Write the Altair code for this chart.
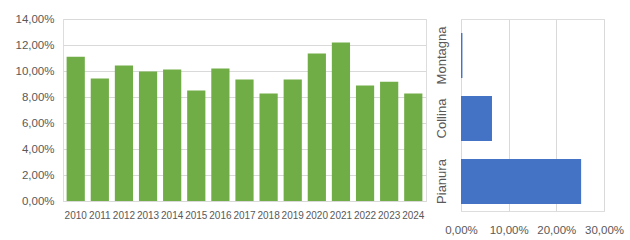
import altair as alt
import pandas as pd

years = [str(y) for y in range(2010, 2025)]
year_values = [0.1109, 0.0942, 0.1042, 0.0996, 0.1012, 0.0850, 0.1019, 0.0935,
               0.0827, 0.0935, 0.1134, 0.1219, 0.0889, 0.0918, 0.0827]

zones = ["Montagna", "Collina", "Pianura"]
zone_values = [0.003, 0.065, 0.252]

df_years = pd.DataFrame({"anno": years, "valore": year_values})
df_zones = pd.DataFrame({"zona": zones, "valore": zone_values})

FONT = "Liberation Sans"
LBL = "#595959"
GRID = "#D9D9D9"
pct_expr = "replace(format(datum.value, '.2%'), '.', ',')"

left = alt.Chart(df_years).mark_bar(color="#70AD47").encode(
    x=alt.X("anno:N", sort=years, title=None,
            scale=alt.Scale(paddingInner=0.245, paddingOuter=0.15),
            axis=alt.Axis(labelAngle=0, labelFontSize=10, labelColor=LBL, labelFont=FONT,
                          ticks=False, domainColor=GRID, labelPadding=9, grid=False,
                          labelOverlap=False)),
    y=alt.Y("valore:Q", title=None,
            scale=alt.Scale(domain=[0, 0.14], nice=False),
            axis=alt.Axis(values=[0, 0.02, 0.04, 0.06, 0.08, 0.10, 0.12, 0.14],
                          labelExpr=pct_expr, labelFontSize=11.5, labelColor=LBL,
                          labelFont=FONT, ticks=False, domain=False, gridColor=GRID,
                          labelPadding=9, labelFlush=False)),
).properties(width=363, height=182)

right = alt.Chart(df_zones).mark_bar(color="#4472C4").encode(
    y=alt.Y("zona:N", sort=zones, title=None,
            scale=alt.Scale(paddingInner=0.286, paddingOuter=0.1667, align=0.667),
            axis=alt.Axis(labelAngle=-90, labelFontSize=13, labelColor=LBL, labelFont=FONT,
                          ticks=False, domain=False, labelPadding=13, grid=False)),
    x=alt.X("valore:Q", title=None,
            scale=alt.Scale(domain=[0, 0.30], nice=False),
            axis=alt.Axis(values=[0, 0.10, 0.20, 0.30], labelExpr=pct_expr,
                          labelFontSize=11.5, labelColor=LBL, labelFont=FONT,
                          ticks=False, domain=False, gridColor=GRID, labelPadding=13,
                          labelOverlap=False, labelBound=False, labelFlush=False)),
).properties(width=143, height=192)

chart = alt.hconcat(left, right, spacing=35, bounds="flush").properties(
    padding={"left": 14, "top": 12, "right": 0, "bottom": 0}
).configure_view(stroke=None).configure(background="white")

chart.save("out.html", embed_options={"renderer": "svg", "actions": False})
